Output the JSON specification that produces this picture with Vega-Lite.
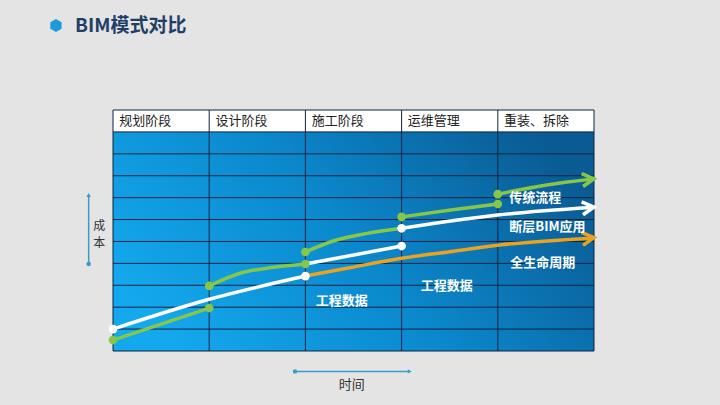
{
  "$schema": "https://vega.github.io/schema/vega-lite/v6.json",
  "description": "BIM模式对比: cost over project stages for three workflows.",
  "width": 481,
  "height": 241,
  "autosize": {"type": "none"},
  "padding": {"left": 113, "top": 110, "right": 126, "bottom": 54},
  "background": "#e4e4e4",
  "config": {"view": {"stroke": null}, "font": "Noto Sans CJK SC"},
  "datasets": {
    "hlines": [
      {"x": 0, "x2": 5, "y": 0}, {"x": 0, "x2": 5, "y": 1}, {"x": 0, "x2": 5, "y": 2},
      {"x": 0, "x2": 5, "y": 3}, {"x": 0, "x2": 5, "y": 4}, {"x": 0, "x2": 5, "y": 5},
      {"x": 0, "x2": 5, "y": 6}, {"x": 0, "x2": 5, "y": 7}, {"x": 0, "x2": 5, "y": 8},
      {"x": 0, "x2": 5, "y": 9}, {"x": 0, "x2": 5, "y": 10}, {"x": 0, "x2": 5, "y": 11}
    ],
    "vlines": [
      {"x": 0, "y": 0, "y2": 11}, {"x": 1, "y": 0, "y2": 11}, {"x": 2, "y": 0, "y2": 11},
      {"x": 3, "y": 0, "y2": 11}, {"x": 4, "y": 0, "y2": 11}, {"x": 5, "y": 0, "y2": 11}
    ],
    "stages": [
      {"stage": "规划阶段", "x": 0.065, "y": 10.5},
      {"stage": "设计阶段", "x": 1.065, "y": 10.5},
      {"stage": "施工阶段", "x": 2.065, "y": 10.5},
      {"stage": "运维管理", "x": 3.065, "y": 10.5},
      {"stage": "重装、拆除", "x": 4.065, "y": 10.5}
    ],
    "orange": [
      {"seg": "o1", "x": 2, "y": 3.42},
      {"seg": "o1", "x": 2.46, "y": 3.8},
      {"seg": "o1", "x": 3, "y": 4.23},
      {"seg": "o1", "x": 3.5, "y": 4.53},
      {"seg": "o1", "x": 4.02, "y": 4.84},
      {"seg": "o1", "x": 4.97, "y": 5.15}
    ],
    "white": [
      {"seg": "w1", "x": 0, "y": 1.0},
      {"seg": "w1", "x": 1, "y": 2.36},
      {"seg": "w1", "x": 2, "y": 3.42},
      {"seg": "w2", "x": 2, "y": 3.97},
      {"seg": "w2", "x": 3, "y": 4.79},
      {"seg": "w3", "x": 3, "y": 5.6},
      {"seg": "w3", "x": 4, "y": 6.21},
      {"seg": "w3", "x": 4.97, "y": 6.55}
    ],
    "green": [
      {"seg": "g1", "x": 0, "y": 0.5},
      {"seg": "g1", "x": 1, "y": 1.96},
      {"seg": "g2", "x": 1, "y": 2.97},
      {"seg": "g2", "x": 1.32, "y": 3.55},
      {"seg": "g2", "x": 1.67, "y": 3.82},
      {"seg": "g2", "x": 2, "y": 3.97},
      {"seg": "g3", "x": 2, "y": 4.52},
      {"seg": "g3", "x": 2.29, "y": 5.02},
      {"seg": "g3", "x": 2.64, "y": 5.37},
      {"seg": "g3", "x": 3, "y": 5.6},
      {"seg": "g4", "x": 3, "y": 6.12},
      {"seg": "g4", "x": 3.51, "y": 6.44},
      {"seg": "g4", "x": 4, "y": 6.71},
      {"seg": "g5", "x": 4, "y": 7.16},
      {"seg": "g5", "x": 4.51, "y": 7.58},
      {"seg": "g5", "x": 4.97, "y": 7.84}
    ],
    "greenDots": [
      {"x": 0, "y": 0.5}, {"x": 1, "y": 1.96}, {"x": 1, "y": 2.97},
      {"x": 2, "y": 3.97}, {"x": 2, "y": 4.52}, {"x": 3, "y": 6.12},
      {"x": 4, "y": 6.71}, {"x": 4, "y": 7.16}
    ],
    "whiteDots": [
      {"x": 0, "y": 1.0}, {"x": 2, "y": 3.42}, {"x": 3, "y": 4.79}, {"x": 3, "y": 5.6}
    ],
    "arrows": [
      {"series": "传统流程", "x": 5.0, "y": 7.86},
      {"series": "断层BIM应用", "x": 5.0, "y": 6.57},
      {"series": "全生命周期", "x": 5.0, "y": 5.17}
    ],
    "labels": [
      {"label": "传统流程", "x": 4.12, "y": 6.97},
      {"label": "断层BIM应用", "x": 4.12, "y": 5.68},
      {"label": "全生命周期", "x": 4.13, "y": 4.03},
      {"label": "工程数据", "x": 2.107, "y": 2.3},
      {"label": "工程数据", "x": 3.2, "y": 2.98}
    ],
    "sideText": [
      {"label": "成", "x": -0.142, "y": 5.7},
      {"label": "本", "x": -0.142, "y": 4.94}
    ]
  },
  "encoding": {
    "x": {"field": "x", "type": "quantitative", "scale": {"domain": [0, 5], "nice": false, "zero": false}, "axis": null},
    "y": {"field": "y", "type": "quantitative", "scale": {"domain": [0, 11], "nice": false, "zero": false}, "axis": null}
  },
  "layer": [
    {
      "data": {"values": [{"x": 0, "x2": 5, "y": 0, "y2": 10}]},
      "mark": {
        "type": "rect",
        "fill": {
          "gradient": "linear",
          "x1": 0, "y1": 0.7, "x2": 1, "y2": 0.3,
          "stops": [
            {"offset": 0, "color": "#14a9ee"},
            {"offset": 0.5, "color": "#0b88cc"},
            {"offset": 1, "color": "#0a5b93"}
          ]
        }
      },
      "encoding": {"x2": {"field": "x2"}, "y2": {"field": "y2"}}
    },
    {
      "data": {"values": [{"x": 0, "x2": 5, "y": 10, "y2": 11}]},
      "mark": {"type": "rect", "fill": "#ffffff"},
      "encoding": {"x2": {"field": "x2"}, "y2": {"field": "y2"}}
    },
    {
      "data": {"name": "hlines"},
      "mark": {"type": "rule", "stroke": "#0d2440", "strokeWidth": 1},
      "encoding": {"x2": {"field": "x2"}}
    },
    {
      "data": {"name": "vlines"},
      "mark": {"type": "rule", "stroke": "#0d2440", "strokeWidth": 1},
      "encoding": {"y2": {"field": "y2"}}
    },
    {
      "data": {"name": "stages"},
      "mark": {"type": "text", "align": "left", "baseline": "middle", "fontSize": 13, "color": "#222222"},
      "encoding": {"text": {"field": "stage"}}
    },
    {
      "data": {"name": "orange"},
      "mark": {"type": "line", "stroke": "#e9a222", "strokeWidth": 3.5, "interpolate": "monotone"},
      "encoding": {"detail": {"field": "seg"}}
    },
    {
      "data": {"name": "white"},
      "mark": {"type": "line", "stroke": "#ffffff", "strokeWidth": 3.5, "interpolate": "monotone"},
      "encoding": {"detail": {"field": "seg"}}
    },
    {
      "data": {"name": "green"},
      "mark": {"type": "line", "stroke": "#86c74a", "strokeWidth": 3.5, "interpolate": "monotone"},
      "encoding": {"detail": {"field": "seg"}}
    },
    {
      "data": {"name": "greenDots"},
      "mark": {"type": "circle", "color": "#86c74a", "size": 75, "opacity": 1}
    },
    {
      "data": {"name": "whiteDots"},
      "mark": {"type": "circle", "color": "#ffffff", "size": 75, "opacity": 1}
    },
    {
      "data": {"name": "arrows"},
      "mark": {
        "type": "point",
        "shape": "M-1.8,-1L0,0L-1.8,1",
        "filled": false,
        "size": 170,
        "strokeWidth": 3.5,
        "angle": -6,
        "opacity": 1
      },
      "encoding": {
        "color": {
          "field": "series",
          "type": "nominal",
          "scale": {"domain": ["传统流程", "断层BIM应用", "全生命周期"], "range": ["#86c74a", "#ffffff", "#e9a222"]},
          "legend": null
        }
      }
    },
    {
      "data": {"name": "labels"},
      "mark": {"type": "text", "align": "left", "baseline": "middle", "fontSize": 13, "fontWeight": "bold", "color": "#ffffff"},
      "encoding": {"text": {"field": "label"}}
    },
    {
      "data": {"values": [{"x": -0.253, "y": 3.97, "y2": 7.1}]},
      "mark": {"type": "rule", "stroke": "#3a9cc6", "strokeWidth": 1.5},
      "encoding": {"y2": {"field": "y2"}}
    },
    {
      "data": {"values": [{"x": -0.253, "y": 3.97}]},
      "mark": {"type": "circle", "color": "#3a9cc6", "size": 20, "opacity": 1}
    },
    {
      "data": {"values": [{"x": -0.253, "y": 7.12}]},
      "mark": {"type": "point", "shape": "triangle-up", "filled": true, "color": "#3a9cc6", "size": 20, "opacity": 1}
    },
    {
      "data": {"values": [{"x": 1.892, "x2": 3.08, "y": -0.93}]},
      "mark": {"type": "rule", "stroke": "#3a9cc6", "strokeWidth": 1.5},
      "encoding": {"x2": {"field": "x2"}}
    },
    {
      "data": {"values": [{"x": 1.892, "y": -0.93}]},
      "mark": {"type": "circle", "color": "#3a9cc6", "size": 20, "opacity": 1}
    },
    {
      "data": {"values": [{"x": 3.085, "y": -0.93}]},
      "mark": {"type": "point", "shape": "triangle-right", "filled": true, "color": "#3a9cc6", "size": 20, "opacity": 1}
    },
    {
      "data": {"name": "sideText"},
      "mark": {"type": "text", "align": "center", "baseline": "middle", "fontSize": 12, "color": "#333333"},
      "encoding": {"text": {"field": "label"}}
    },
    {
      "data": {"values": [{"x": 2.482, "y": -1.55, "label": "时间"}]},
      "mark": {"type": "text", "align": "center", "baseline": "middle", "fontSize": 13, "color": "#333333"},
      "encoding": {"text": {"field": "label"}}
    },
    {
      "data": {"values": [{"x": -0.593, "y": 14.86}]},
      "mark": {
        "type": "point",
        "shape": "M0,-1L0.866,-0.5L0.866,0.5L0,1L-0.866,0.5L-0.866,-0.5Z",
        "filled": true,
        "color": "#1b9bd8",
        "size": 169,
        "opacity": 1
      }
    },
    {
      "data": {"values": [{"x": -0.395, "y": 14.84, "label": "BIM模式对比"}]},
      "mark": {"type": "text", "align": "left", "baseline": "middle", "fontSize": 19, "fontWeight": "bold", "color": "#1f3f66"},
      "encoding": {"text": {"field": "label"}}
    }
  ]
}
